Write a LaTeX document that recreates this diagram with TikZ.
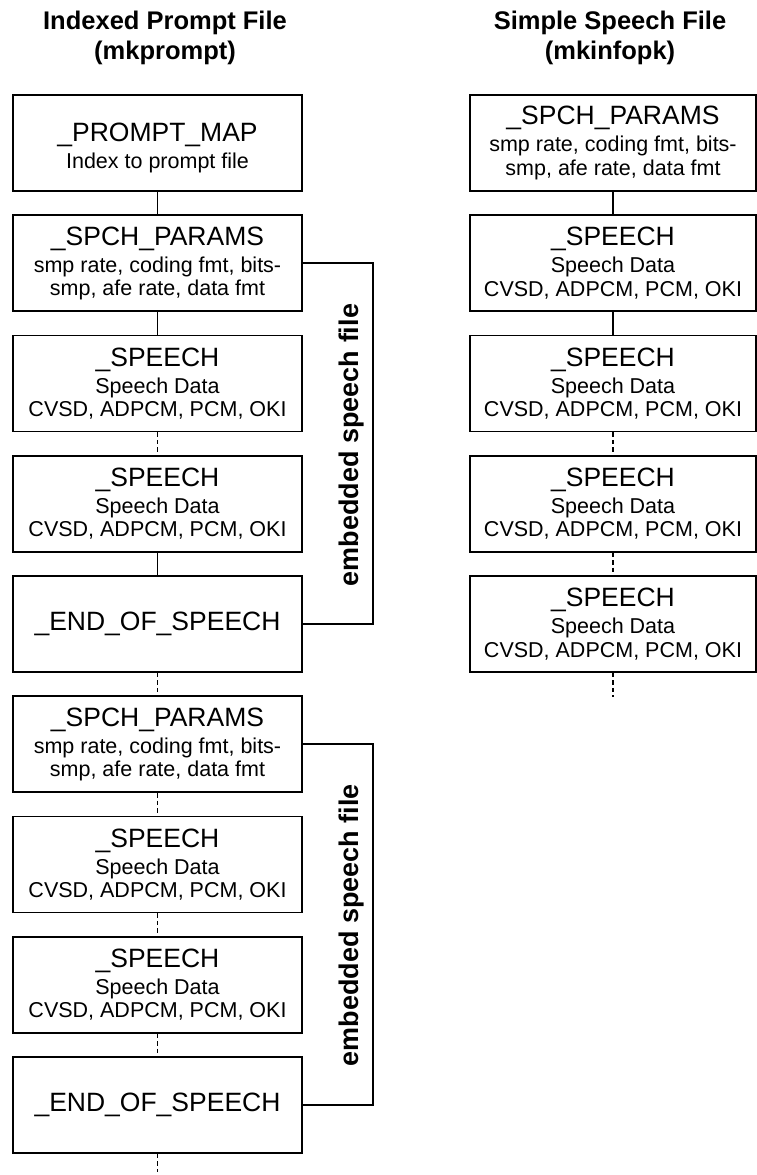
\documentclass[tikz,border=0pt]{standalone}
\usepackage{fontspec}
\setmainfont{Liberation Sans}
\newcommand\mainsz{\fontsize{26.5}{29}\selectfont}
\newcommand\subsz{\fontsize{21.5}{23.5}\selectfont}
\newcommand\titlesz{\fontsize{25.5}{30}\selectfont\bfseries}
\tikzset{
  blockbox/.style={draw, line width=1.8pt, minimum height=96pt, inner sep=0pt, align=center, font=\subsz},
  leftbox/.style={blockbox, minimum width=289pt},
  rightbox/.style={blockbox, minimum width=286pt},
  solidlink/.style={line width=1.8pt},
  dashlink/.style={line width=1.8pt, dash pattern=on 4.5pt off 3pt},
  titletext/.style={align=center, font=\titlesz, inner sep=0pt},
  sidelabel/.style={rotate=90, font=\fontsize{27}{30}\selectfont\bfseries, inner sep=0pt}
}
\newcommand\speechtext{{\mainsz \_SPEECH}\\[3.5pt] Speech Data\\ CVSD, ADPCM, PCM, OKI}
\newcommand\paramstext{{\mainsz \_SPCH\_PARAMS}\\[3.5pt] smp rate, coding fmt, bits-\\ smp, afe rate, data fmt}
\begin{document}
\begin{tikzpicture}[x=1pt,y=-1pt]
\useasboundingbox (0,0) rectangle (757,1175);
% titles
\node[titletext] (t1) at (165,38) {Indexed Prompt File\\(mkprompt)};
\node[titletext] (t2) at (610,38) {Simple Speech File\\(mkinfopk)};
% left column
\node[leftbox] (L1) at (157.5,143) {{\mainsz\rule{0pt}{29pt}\_PROMPT\_MAP}\\[3.5pt] Index to prompt file};
\node[leftbox] (L2) at (157.5,263.25) {\paramstext};
\node[leftbox] (L3) at (157.5,383.5) {\speechtext};
\node[leftbox] (L4) at (157.5,503.75) {\speechtext};
\node[leftbox, font=\mainsz] (L5) at (157.5,624) {\_END\_OF\_SPEECH};
\node[leftbox] (L6) at (157.5,744.25) {\paramstext};
\node[leftbox] (L7) at (157.5,864.5) {\speechtext};
\node[leftbox] (L8) at (157.5,984.75) {\speechtext};
\node[leftbox, font=\mainsz] (L9) at (157.5,1105) {\_END\_OF\_SPEECH};
\coordinate (Lend) at (157.5,1172);
% right column
\node[rightbox] (R1) at (613,143) {\paramstext};
\node[rightbox] (R2) at (613,263.25) {\speechtext};
\node[rightbox] (R3) at (613,383.5) {\speechtext};
\node[rightbox] (R4) at (613,503.75) {\speechtext};
\node[rightbox] (R5) at (613,624) {\speechtext};
\coordinate (Rend) at (613,697);
% links left
\draw[solidlink] (L1.south) -- (L2.north);
\draw[solidlink] (L2.south) -- (L3.north);
\draw[dashlink] (L3.south) -- (L4.north);
\draw[solidlink] (L4.south) -- (L5.north);
\draw[dashlink] (L5.south) -- (L6.north);
\draw[dashlink] (L6.south) -- (L7.north);
\draw[dashlink] (L7.south) -- (L8.north);
\draw[dashlink] (L8.south) -- (L9.north);
\draw[dashlink] (L9.south) -- (Lend);
% links right
\draw[solidlink] (R1.south) -- (R2.north);
\draw[solidlink] (R2.south) -- (R3.north);
\draw[dashlink] (R3.south) -- (R4.north);
\draw[dashlink] (R4.south) -- (R5.north);
\draw[dashlink] (R5.south) -- (Rend);
% brackets
\coordinate (b1) at (373,263.25);
\coordinate (b2) at (373,744.25);
\draw[solidlink] (L2.east) -- (b1) -- (b1 |- L5.east) -- (L5.east);
\draw[solidlink] (L6.east) -- (b2) -- (b2 |- L9.east) -- (L9.east);
\node[sidelabel] (e1) at (352,445) {embedded speech file};
\node[sidelabel] (e2) at (352,925) {embedded speech file};
\end{tikzpicture}
\end{document}
